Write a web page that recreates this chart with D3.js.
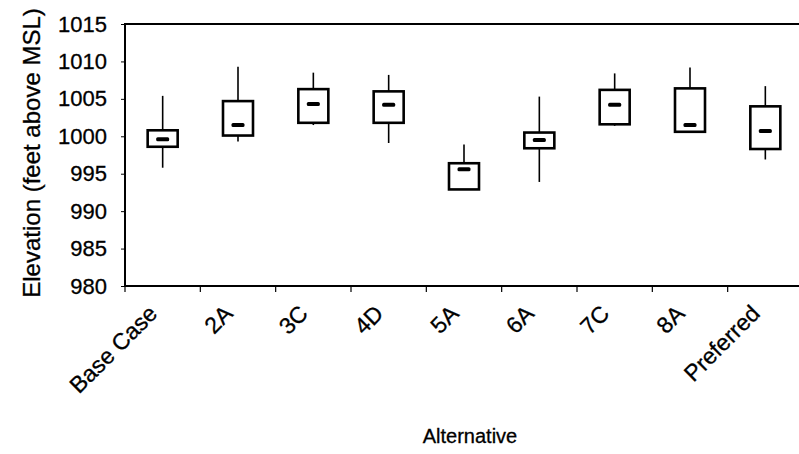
<!DOCTYPE html>
<html lang="en">
<head>
    <meta charset="UTF-8">
    <title>Elevation by alternative</title>
    <style>
        body { margin: 0; background: #fff; }
        #chart { width: 799px; height: 454px; display: block; }
        text { font-family: "Liberation Sans", Arial, sans-serif; fill: #000; stroke: #000; stroke-width: 0.3px; }
    </style>
</head>
<body>
    <svg id="chart"></svg>

    <script src="https://d3js.org/d3.v7.min.js"></script>
    <script>
        // data (feet above MSL)
        const categories = ["Base Case", "2A", "3C", "4D", "5A", "6A", "7C", "8A", "Preferred"];
        const whiskerHigh = [1005.4, 1009.3, 1008.5, 1008.2, 998.9, 1005.3, 1008.4, 1009.2, 1006.7];
        const boxHigh     = [1000.8, 1004.7, 1006.3, 1006.0, 996.4, 1000.5, 1006.2, 1006.4, 1004.0];
        const medians     = [999.6, 1001.5, 1004.3, 1004.2, 995.6, 999.5, 1004.2, 1001.5, 1000.7];
        const boxLow      = [998.6, 1000.1, 1001.8, 1001.8, 992.9, 998.4, 1001.6, 1000.6, 998.3];
        const whiskerLow  = [995.8, 999.3, 1001.5, 999.1, 992.9, 993.9, 1001.4, 1000.6, 996.9];
        const yTicks = [980, 985, 990, 995, 1000, 1005, 1010, 1015];

        const svg = d3.select("#chart");

        // plot area (the right edge runs off the picture)
        const plot = { left: 125, right: 803, top: 24, bottom: 286 };

        const x = d3.scaleBand().domain(categories).range([plot.left, plot.right]).padding(0);
        const y = d3.scaleLinear().domain([980, 1015]).range([plot.bottom, plot.top]);

        const rows = categories.map((c, i) => ({
            c, hi: whiskerHigh[i], q3: boxHigh[i], med: medians[i], q1: boxLow[i], lo: whiskerLow[i]
        }));

        // frame
        svg.append("rect")
            .attr("x", plot.left).attr("y", plot.top)
            .attr("width", plot.right - plot.left).attr("height", plot.bottom - plot.top)
            .attr("fill", "none").attr("stroke", "#000").attr("stroke-width", 2);

        // y axis
        const yAxis = svg.append("g")
            .attr("transform", `translate(${plot.left},0)`)
            .call(d3.axisLeft(y).tickValues(yTicks).tickSize(4).tickPadding(14).tickFormat(d3.format("d")));
        yAxis.select(".domain").remove();
        yAxis.selectAll("line").attr("stroke", "#000").attr("stroke-width", 1);
        yAxis.selectAll("text")
            .style("font-family", "'Liberation Sans', Arial, sans-serif")
            .style("font-size", "22px").attr("fill", "#000");

        // x axis: ticks on band boundaries, labels rotated
        const bounds = categories.map(c => x(c)).concat([plot.right]);
        svg.selectAll(".xtick").data(bounds).enter().append("line")
            .attr("class", "xtick")
            .attr("x1", d => d).attr("x2", d => d)
            .attr("y1", plot.bottom).attr("y2", plot.bottom + 6)
            .attr("stroke", "#000").attr("stroke-width", 1.2);

        svg.selectAll(".xlab").data(categories).enter().append("text")
            .attr("class", "xlab")
            .attr("transform", d => `translate(${x(d) + x.bandwidth() / 2 - 4},${plot.bottom + 29}) rotate(-45)`)
            .attr("text-anchor", "end")
            .style("font-size", "23px")
            .text(d => d);

        // axis titles
        svg.append("text")
            .attr("transform", `translate(40,${(plot.top + plot.bottom) / 2 - 2}) rotate(-90)`)
            .attr("text-anchor", "middle")
            .style("font-size", "24px")
            .text("Elevation (feet above MSL)");

        svg.append("text")
            .attr("x", 470).attr("y", 443)
            .attr("text-anchor", "middle")
            .style("font-size", "20px")
            .text("Alternative");

        // box plots
        const boxW = 30, medW = 13;
        const g = svg.selectAll(".box").data(rows).enter().append("g").attr("class", "box")
            .attr("transform", d => `translate(${x(d.c) + x.bandwidth() / 2},0)`);

        g.append("line")
            .attr("x1", 0).attr("x2", 0)
            .attr("y1", d => y(d.hi)).attr("y2", d => y(d.lo))
            .attr("stroke", "#000").attr("stroke-width", 1.6);

        g.append("rect")
            .attr("x", -boxW / 2).attr("width", boxW)
            .attr("y", d => y(d.q3)).attr("height", d => y(d.q1) - y(d.q3))
            .attr("fill", "#fff").attr("stroke", "#000").attr("stroke-width", 2.6);

        g.append("rect")
            .attr("x", -medW / 2).attr("width", medW)
            .attr("y", d => y(d.med) - 2).attr("height", 4)
            .attr("rx", 1.5)
            .attr("fill", "#000");
    </script>
</body>
</html>
